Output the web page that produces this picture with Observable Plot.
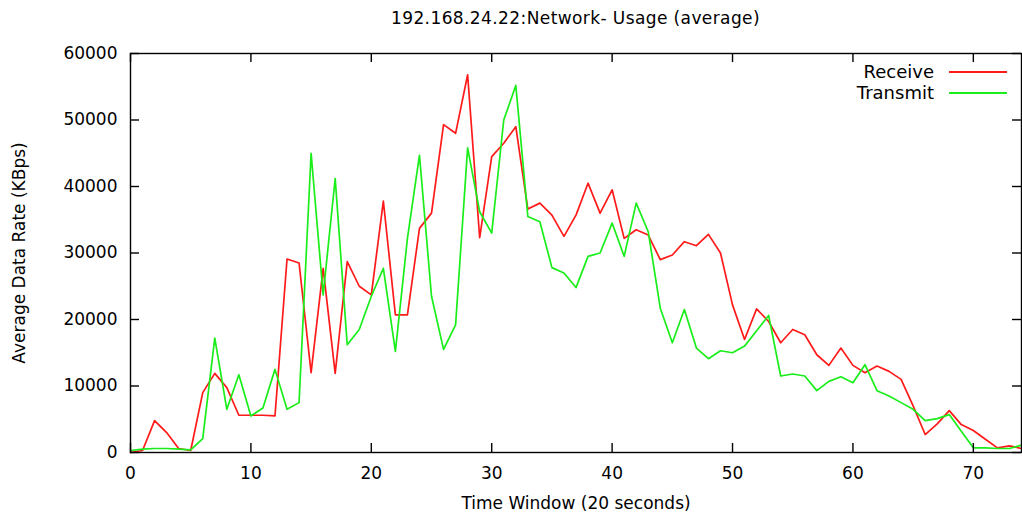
<!DOCTYPE html>
<html>
<head>
<meta charset="utf-8">
<script src="https://cdn.jsdelivr.net/npm/d3@7"></script>
<script src="https://cdn.jsdelivr.net/npm/@observablehq/plot@0.6"></script>
<style>
  body { margin: 0; background: #fff; font-family: "DejaVu Sans", sans-serif; }
  #title { width: 1022px; height: 36px; box-sizing: border-box; padding-left: 130px; padding-right: 1px;
           padding-top: 8px; line-height: 20px; text-align: center; font-size: 17px; letter-spacing: 0.4px; color: #000; }
  #chart svg { display: block; }
</style>
</head>
<body>
<div id="title"></div>
<div id="chart"></div>
<script>
const titleText = "192.168.24.22:Network- Usage (average)";
const xLabel = "Time Window (20 seconds)";
const yLabel = "Average Data Rate (KBps)";
const seriesNames = ["Receive", "Transmit"];
const seriesColors = ["#ff1a1a", "#1aee1a"];
const xTicks = [0, 10, 20, 30, 40, 50, 60, 70];
const yTicks = [0, 10000, 20000, 30000, 40000, 50000, 60000];

// time window index 0..74
const timeWindow = d3.range(0, 75);

const receive = [
  0, 300, 4800, 3000, 600, 300, 9000, 11900, 9750, 5600,
  5600, 5600, 5500, 29100, 28500, 12000, 27700, 11900, 28700, 25000,
  23700, 37800, 20700, 20700, 33700, 36000, 49300, 48000, 56800, 32300,
  44500, 46500, 49000, 36600, 37500, 35700, 32500, 35700, 40500, 36000,
  39500, 32200, 33500, 32700, 29000, 29700, 31700, 31100, 32800, 30000,
  22200, 17000, 21600, 19700, 16500, 18500, 17700, 14700, 13100, 15700,
  13100, 12000, 13000, 12200, 11000, 7000, 2700, 4300, 6300, 4200,
  3300, 2000, 700, 1000, 600
];

const transmit = [
  300, 500, 600, 600, 500, 400, 2100, 17200, 6500, 11700,
  5500, 6700, 12500, 6500, 7500, 45000, 23700, 41200, 16200, 18500,
  23500, 27700, 15200, 32200, 44700, 23500, 15500, 19200, 45800, 36200,
  33000, 50000, 55200, 35500, 34700, 27800, 27000, 24800, 29500, 30000,
  34500, 29500, 37500, 33200, 21700, 16500, 21500, 15700, 14100, 15300,
  15000, 16000, 18300, 20600, 11500, 11800, 11500, 9300, 10700, 11400,
  10500, 13200, 9300, 8500, 7500, 6500, 4800, 5100, 5700, 3200,
  700, 700, 600, 600, 1100
];

document.getElementById("title").textContent = titleText;

const rows = timeWindow.map((t, i) => ({t, receive: receive[i], transmit: transmit[i]}));

const W = 1022, H = 479, mT = 17, mB = 63, mL = 130, mR = 1;
const plotW = W - mL - mR, plotH = H - mT - mB;
const tickLen = 9;

function legend(index, scales, values, dims) {
  const g = d3.create("svg:g");
  const right = dims.width - dims.marginRight;
  const top = dims.marginTop;
  seriesNames.forEach((name, i) => {
    const y = top + 19 + 21 * i;
    g.append("text")
      .attr("x", right - 87).attr("y", y).attr("dy", "0.35em")
      .attr("text-anchor", "end").attr("font-size", 18).attr("fill", "#000")
      .attr("font-family", "DejaVu Sans")
      .text(name);
    g.append("line")
      .attr("x1", right - 72).attr("x2", right - 14)
      .attr("y1", y).attr("y2", y)
      .attr("stroke", seriesColors[i]).attr("stroke-width", 1.8);
  });
  return g.node();
}

const plot = Plot.plot({
  width: W, height: H,
  marginTop: mT, marginBottom: mB, marginLeft: mL, marginRight: mR,
  style: { fontFamily: "DejaVu Sans", fontSize: "17px", color: "#000", background: "#fff" },
  x: { domain: [0, 74] },
  y: { domain: [0, 60000] },
  marks: [
    Plot.line(rows, {x: "t", y: "receive", stroke: seriesColors[0], strokeWidth: 1.7}),
    Plot.line(rows, {x: "t", y: "transmit", stroke: seriesColors[1], strokeWidth: 1.7}),
    Plot.tickY(yTicks, {y: d => d, insetRight: plotW - tickLen, stroke: "#000", strokeWidth: 1.4}),
    Plot.tickY(yTicks, {y: d => d, insetLeft: plotW - tickLen, stroke: "#000", strokeWidth: 1.4}),
    Plot.tickX(xTicks, {x: d => d, insetTop: plotH - tickLen, stroke: "#000", strokeWidth: 1.4}),
    Plot.tickX(xTicks, {x: d => d, insetBottom: plotH - tickLen, stroke: "#000", strokeWidth: 1.4}),
    Plot.frame({stroke: "#000", strokeWidth: 1.4}),
    Plot.axisY(yTicks, {tickSize: 0, tickPadding: 13, tickFormat: d => String(d),
      label: yLabel, labelAnchor: "center", labelOffset: 118, labelArrow: "none", fontSize: 17}),
    Plot.axisX(xTicks, {tickSize: 0, tickPadding: 14, tickFormat: d => String(d),
      label: xLabel, labelAnchor: "center", labelOffset: 56, labelArrow: "none", fontSize: 17}),
    legend
  ]
});
document.getElementById("chart").appendChild(plot);
</script>
</body>
</html>
